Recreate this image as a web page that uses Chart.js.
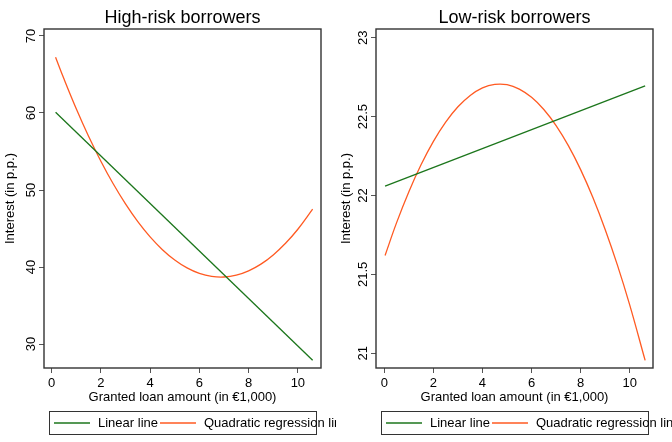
<!DOCTYPE html>
<html>
<head>
<meta charset="utf-8">
<script src="https://cdn.jsdelivr.net/npm/chart.js@4.4.1/dist/chart.umd.min.js"></script>
<style>
html, body { margin: 0; padding: 0; background: #fff; }
#wrap { display: flex; width: 672px; height: 442px; }
canvas { display: block; }
</style>
</head>
<body>
<div id="wrap">
  <canvas id="chart1" width="336" height="442"></canvas>
  <canvas id="chart2" width="336" height="442"></canvas>
</div>
<script>
const seriesNames = ['Linear line', 'Quadratic regression line'];
const seriesColors = ['#1c761c', '#ff5a22'];
const xTicks = [0, 2, 4, 6, 8, 10];

// High-risk borrowers
const highLinX = [0.16, 10.6];
const highLinY = [60.1, 27.9];
const highQuadX = [0.16, 0.5, 1, 1.5, 2, 2.5, 3, 3.5, 4, 4.5, 5, 5.5, 6, 6.5, 7, 7.5, 8, 8.5, 9, 9.5, 10, 10.6];
const highQuadY = [67.24, 64.43, 60.55, 56.98, 53.74, 50.81, 48.2, 45.9, 43.92, 42.26, 40.92, 39.89, 39.18, 38.79, 38.71, 38.95, 39.51, 40.38, 41.58, 43.09, 44.91, 47.52];
const highYTicks = [30, 40, 50, 60, 70];

// Low-risk borrowers
const lowLinX = [0.03, 10.63];
const lowLinY = [22.06, 22.695];
const lowQuadX = [0.03, 0.5, 1, 1.5, 2, 2.5, 3, 3.5, 4, 4.5, 5, 5.5, 6, 6.5, 7, 7.5, 8, 8.5, 9, 9.5, 10, 10.63];
const lowQuadY = [21.62, 21.828, 22.024, 22.196, 22.343, 22.465, 22.562, 22.634, 22.682, 22.704, 22.702, 22.674, 22.622, 22.545, 22.443, 22.316, 22.164, 21.987, 21.785, 21.559, 21.307, 20.955];
const lowYTicks = [21, 21.5, 22, 22.5, 23];

const FONT = '"Liberation Sans", Arial, sans-serif';
Chart.defaults.font.family = FONT;
Chart.defaults.color = '#000';

function pts(xs, ys) {
    return xs.map((x, i) => ({ x: x, y: ys[i] }));
}

// title, plot frame, rotated y tick labels and the boxed legend
const framePlugin = {
    id: 'frame',
    afterDraw(chart, args, opts) {
        const ctx = chart.ctx;
        const a = chart.chartArea;
        ctx.save();

        ctx.fillStyle = '#000';
        ctx.font = '18px ' + FONT;
        ctx.textAlign = 'center';
        ctx.textBaseline = 'alphabetic';
        ctx.fillText(opts.title, (a.left + a.right) / 2, 22.5);

        ctx.strokeStyle = '#333';
        ctx.lineWidth = 1.4;
        ctx.strokeRect(a.left, a.top, a.right - a.left, a.bottom - a.top);

        const ys = chart.scales.y;
        ctx.font = '13px ' + FONT;
        ys.ticks.forEach(t => {
            ctx.save();
            ctx.translate(a.left - 9, ys.getPixelForValue(t.value));
            ctx.rotate(-Math.PI / 2);
            ctx.textAlign = 'center';
            ctx.textBaseline = 'alphabetic';
            ctx.fillText(String(t.value), 0, 0);
            ctx.restore();
        });

        // legend
        const lx = a.left + 5, ly = 411, lw = 267, lh = 23;
        ctx.fillStyle = '#fff';
        ctx.fillRect(lx, ly, lw, lh);
        ctx.strokeStyle = '#333';
        ctx.lineWidth = 1;
        ctx.strokeRect(lx + 0.5, ly + 0.5, lw, lh);
        let x = lx + 5;
        const cy = ly + 12;
        chart.data.datasets.forEach(ds => {
            ctx.strokeStyle = ds.borderColor;
            ctx.lineWidth = 1.3;
            ctx.beginPath();
            ctx.moveTo(x, cy);
            ctx.lineTo(x + 36, cy);
            ctx.stroke();
            x += 44;
            ctx.fillStyle = '#000';
            ctx.textAlign = 'left';
            ctx.textBaseline = 'middle';
            ctx.fillText(ds.label, x, cy);
            x += ctx.measureText(ds.label).width + 2;
        });
        ctx.restore();
    }
};

function makePanel(id, title, linX, linY, quadX, quadY, yTicks, yMin, yMax, xMin, xMax, yWidth, padRight) {
    const ctx = document.getElementById(id).getContext('2d');
    return new Chart(ctx, {
        type: 'line',
        data: {
            datasets: [{
                label: seriesNames[0],
                data: pts(linX, linY),
                borderColor: seriesColors[0],
                borderWidth: 1.3,
                pointRadius: 0
            }, {
                label: seriesNames[1],
                data: pts(quadX, quadY),
                borderColor: seriesColors[1],
                borderWidth: 1.3,
                pointRadius: 0,
                tension: 0.4
            }]
        },
        options: {
            responsive: false,
            animation: false,
            events: [],
            layout: { padding: { top: 29, right: padRight, left: 0, bottom: 0 } },
            plugins: {
                legend: { display: false },
                title: { display: false },
                tooltip: { enabled: false },
                frame: { title: title }
            },
            scales: {
                x: {
                    type: 'linear',
                    min: xMin,
                    max: xMax,
                    afterBuildTicks: s => { s.ticks = xTicks.map(v => ({ value: v })); },
                    afterFit: s => { s.height = 74; },
                    grid: { drawOnChartArea: false, drawTicks: true, tickLength: 5, tickColor: '#555' },
                    border: { display: false },
                    ticks: { font: { size: 13 }, color: '#000', padding: 3, maxRotation: 0 },
                    title: {
                        display: true,
                        text: 'Granted loan amount (in €1,000)',
                        font: { size: 13 },
                        color: '#000',
                        padding: { top: 0, bottom: 37 }
                    }
                },
                y: {
                    type: 'linear',
                    min: yMin,
                    max: yMax,
                    afterBuildTicks: s => { s.ticks = yTicks.map(v => ({ value: v })); },
                    afterFit: s => { s.width = yWidth; },
                    grid: { drawOnChartArea: false, drawTicks: true, tickLength: 5, tickColor: '#555' },
                    border: { display: false },
                    ticks: { display: false },
                    title: {
                        display: true,
                        text: 'Interest (in p.p.)',
                        font: { size: 13 },
                        color: '#000',
                        padding: { top: 3, bottom: 0 }
                    }
                }
            }
        },
        plugins: [framePlugin]
    });
}

makePanel('chart1', 'High-risk borrowers', highLinX, highLinY, highQuadX, highQuadY,
    highYTicks, 26.9, 70.9, -0.31, 10.94, 44, 15);
makePanel('chart2', 'Low-risk borrowers', lowLinX, lowLinY, lowQuadX, lowQuadY,
    lowYTicks, 20.907, 23.055, -0.34, 10.95, 40, 19);
</script>
</body>
</html>
